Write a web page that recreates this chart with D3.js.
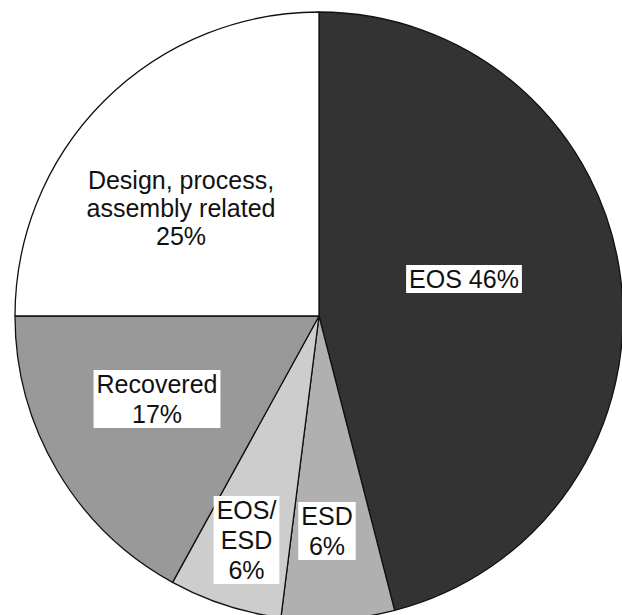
<!DOCTYPE html>
<html>
<head>
<meta charset="utf-8">
<script src="https://cdn.jsdelivr.net/npm/d3@7"></script>
<style>
  html, body { margin: 0; padding: 0; background: #fff; }
  svg { display: block; }
  text { font-family: "Liberation Sans", Arial, Helvetica, sans-serif; fill: #111; }
</style>
</head>
<body>
<script>
// Failure causes, share of cases (%), clockwise from 12 o'clock
const categories = ["EOS", "ESD", "EOS/ESD", "Recovered", "Design, process, assembly related"];
const shares = [46, 6, 6, 17, 25];
const fills = ["#333333", "#b0b0b0", "#cdcdcd", "#999999", "#ffffff"];

// Label text lines per slice
const labelLines = [
  ["EOS 46%"],
  ["ESD", "6%"],
  ["EOS/", "ESD", "6%"],
  ["Recovered", "17%"],
  ["Design, process,", "assembly related", "25%"]
];
// Label anchor (centre x, first baseline y) relative to pie centre, line height, boxed or not
const labelLayout = [
  { dx: 145, dy: -28, lh: 30, boxed: true },
  { dx: 8, dy: 209, lh: 30, boxed: true },
  { dx: -72.5, dy: 203, lh: 30, boxed: true },
  { dx: -162, dy: 77, lh: 30, boxed: true },
  { dx: -138, dy: -127, lh: 28, boxed: false }
];

const W = 622, H = 615;
const cx = 319, cy = 316, R = 304;

const svg = d3.select("body").append("svg").attr("width", W).attr("height", H);
const g = svg.append("g").attr("transform", `translate(${cx},${cy})`);

const data = categories.map((c, i) => ({ name: c, value: shares[i], i }));
const pie = d3.pie().value(d => d.value).sort(null);
const arc = d3.arc().innerRadius(0).outerRadius(R);

g.selectAll("path.slice")
  .data(pie(data))
  .join("path")
  .attr("class", "slice")
  .attr("d", arc)
  .attr("fill", d => fills[d.data.i])
  .attr("stroke", "#111")
  .attr("stroke-width", 1.3)
  .attr("stroke-linejoin", "round");

const fontSize = 25, capH = 17.5;
data.forEach((d, i) => {
  const L = labelLayout[i];
  const lg = g.append("g");
  const box = lg.append("rect").attr("fill", "#fff");
  const t = lg.append("text")
    .attr("text-anchor", "middle")
    .attr("font-size", fontSize);
  labelLines[i].forEach((line, k) => {
    t.append("tspan").attr("x", L.dx).attr("y", L.dy + k * L.lh).text(line);
  });
  if (L.boxed) {
    let wmax = 0;
    t.selectAll("tspan").each(function () { wmax = Math.max(wmax, this.getComputedTextLength()); });
    const padX = 3;
    const top = L.dy - capH - 5.5;
    const bottom = L.dy + (labelLines[i].length - 1) * L.lh + 5;
    box.attr("x", L.dx - wmax / 2 - padX)
      .attr("y", top)
      .attr("width", wmax + 2 * padX)
      .attr("height", bottom - top);
  } else {
    box.remove();
  }
});
</script>
</body>
</html>
